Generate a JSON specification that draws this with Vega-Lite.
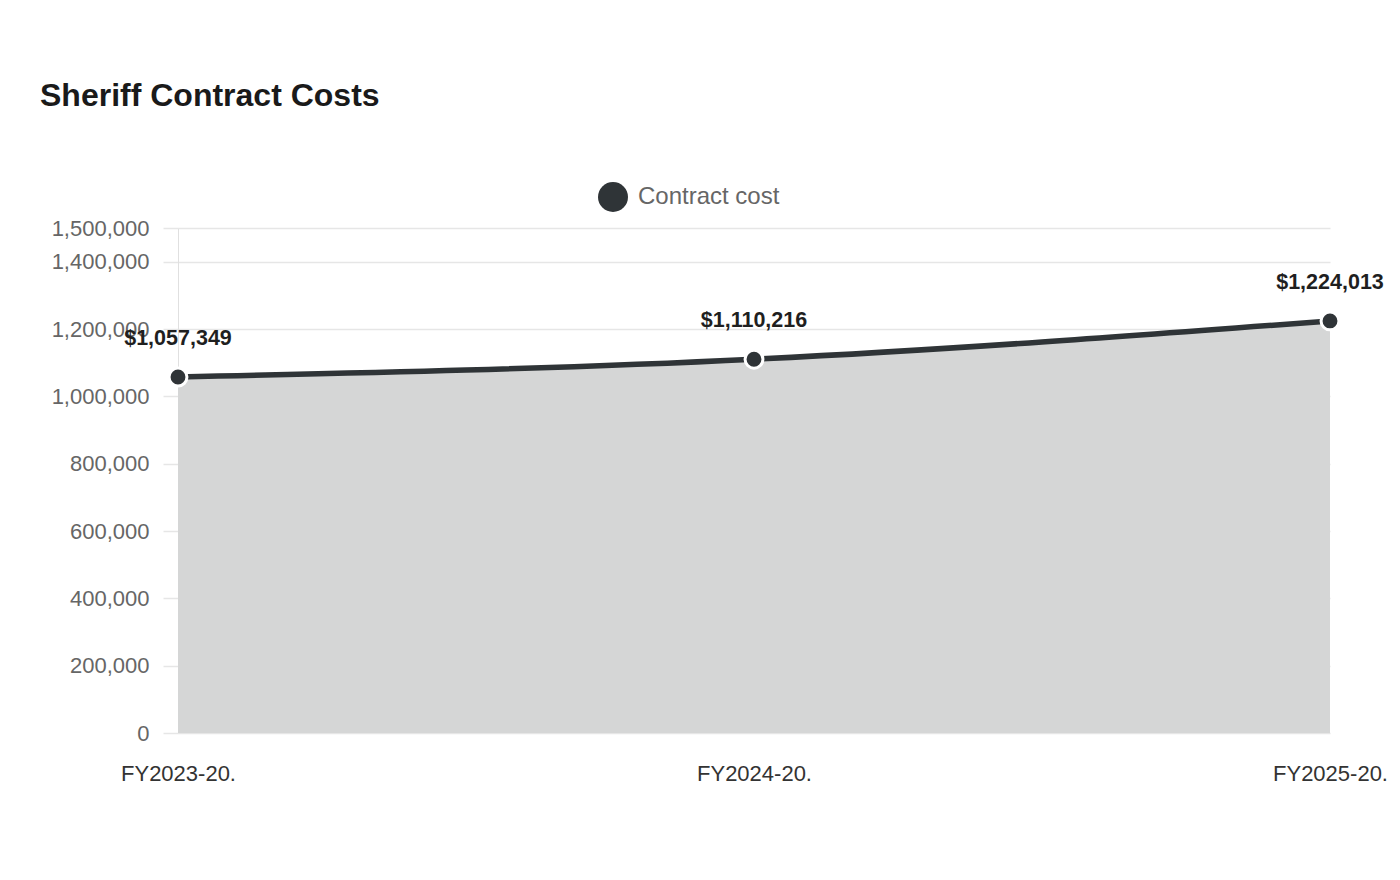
{
  "$schema": "https://vega.github.io/schema/vega-lite/v6.json",
  "autosize": "none",
  "width": 1152,
  "height": 505,
  "padding": {"left": 178, "top": 228, "right": 70, "bottom": 147},
  "background": "white",
  "config": {
    "font": "Liberation Sans",
    "view": {"stroke": null}
  },
  "title": {
    "text": "Sheriff Contract Costs",
    "anchor": "start",
    "frame": "group",
    "fontSize": 32,
    "fontWeight": "bold",
    "color": "#1a1a1a",
    "dx": -138,
    "offset": 69
  },
  "data": {
    "values": [
      {"year": "FY2023-20.", "cost": 1057349, "label": "$1,057,349", "series": "Contract cost"},
      {"year": "FY2024-20.", "cost": 1110216, "label": "$1,110,216", "series": "Contract cost"},
      {"year": "FY2025-20.", "cost": 1224013, "label": "$1,224,013", "series": "Contract cost"}
    ]
  },
  "encoding": {
    "x": {
      "field": "year",
      "type": "ordinal",
      "scale": {"type": "point", "padding": 0},
      "axis": {
        "title": null,
        "labelAngle": 0,
        "labelFontSize": 22,
        "labelColor": "#333333",
        "labelPadding": 30,
        "domain": false,
        "ticks": false,
        "grid": false
      }
    },
    "y": {
      "field": "cost",
      "type": "quantitative",
      "scale": {"domain": [0, 1500000], "nice": false},
      "axis": {
        "title": null,
        "values": [0, 200000, 400000, 600000, 800000, 1000000, 1200000, 1400000, 1500000],
        "labelExpr": "format(datum.value, ',')",
        "labelFontSize": 22,
        "labelColor": "#666666",
        "labelPadding": 14,
        "tickSize": 15,
        "tickColor": "#e6e6e6",
        "gridColor": "#e6e6e6",
        "domainColor": "#e0e0e0",
        "tickWidth": 1.5,
        "gridWidth": 1.5
      }
    }
  },
  "layer": [
    {
      "mark": {"type": "area", "interpolate": "monotone", "color": "#d5d6d6", "opacity": 1}
    },
    {
      "mark": {"type": "line", "interpolate": "monotone", "color": "#2f3437", "strokeWidth": 5.5}
    },
    {
      "mark": {"type": "point", "filled": true, "size": 320, "stroke": "white", "strokeWidth": 3, "opacity": 1},
      "encoding": {
        "color": {
          "field": "series",
          "type": "nominal",
          "scale": {"range": ["#2f3437"]},
          "legend": {
            "title": null,
            "orient": "none",
            "legendX": 420,
            "legendY": -46,
            "symbolType": "circle",
            "symbolSize": 900,
            "symbolStrokeWidth": 0,
            "labelFontSize": 24,
            "labelColor": "#666666",
            "labelOffset": 10
          }
        }
      }
    },
    {
      "mark": {"type": "text", "fontSize": 21.5, "fontWeight": "bold", "color": "#1f1f1f", "dy": -38},
      "encoding": {"text": {"field": "label"}}
    }
  ]
}
